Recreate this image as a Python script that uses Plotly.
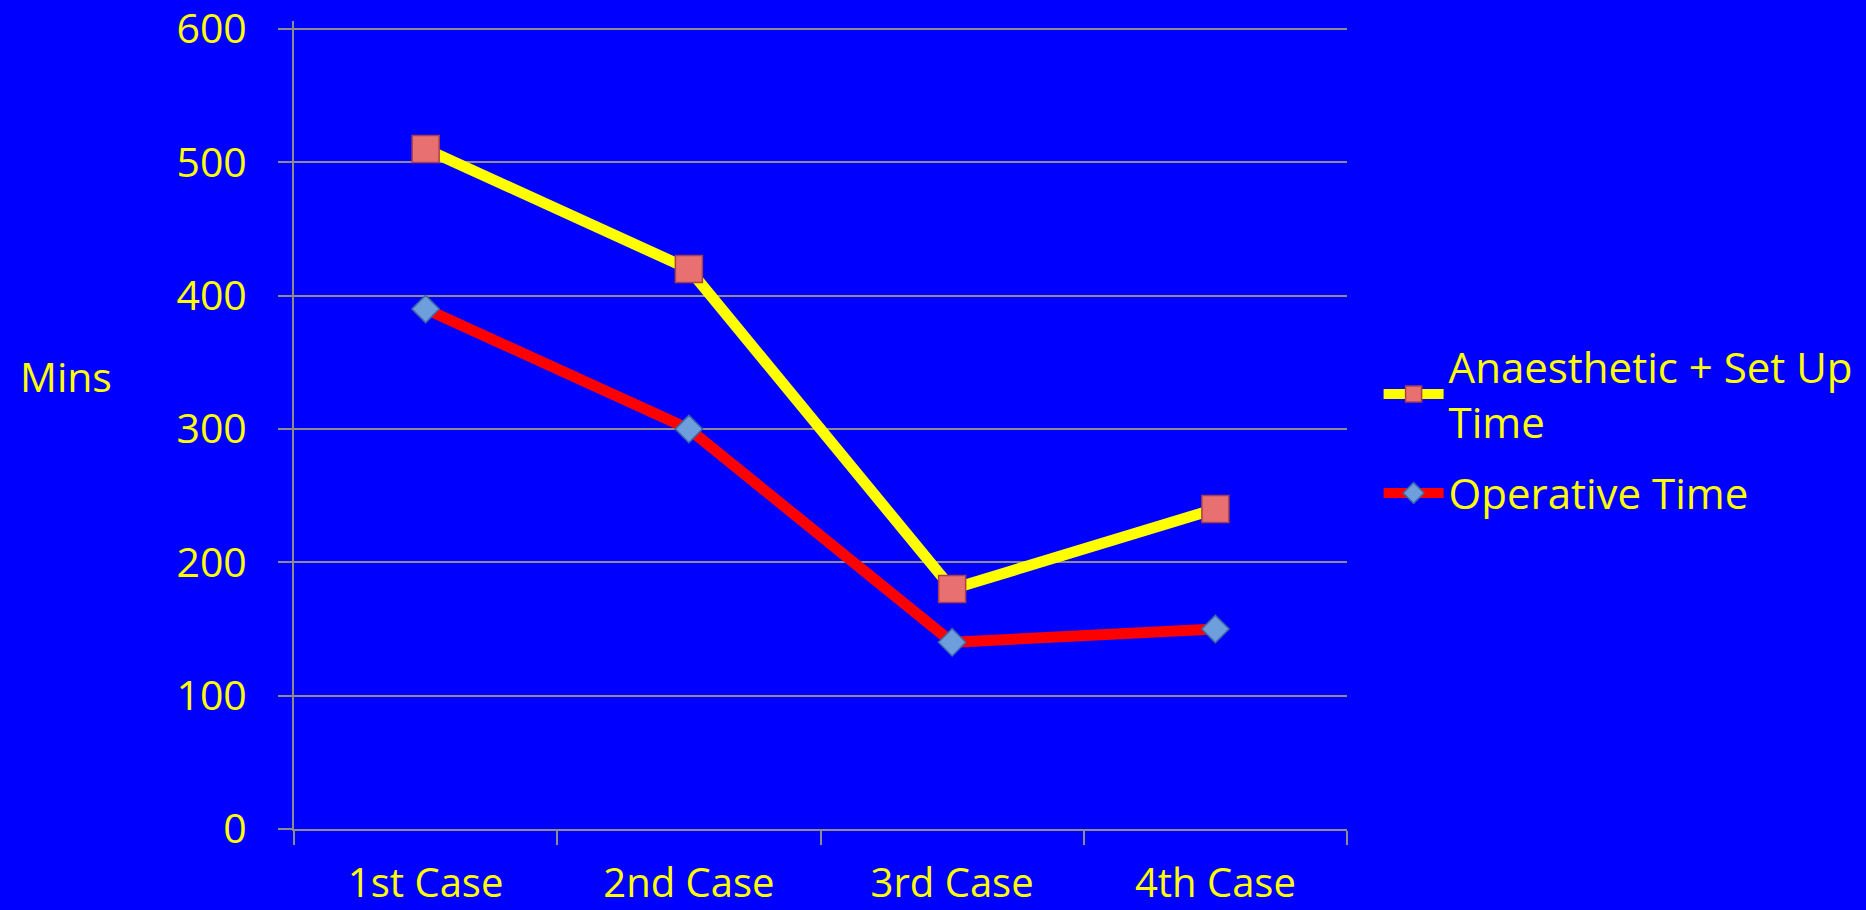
import plotly.graph_objects as go

categories = ["1st Case", "2nd Case", "3rd Case", "4th Case"]
anaesthetic_setup = [510, 420, 180, 240]
operative = [390, 300, 140, 150]
y_ticks = [0, 100, 200, 300, 400, 500, 600]

FONT = "Open Sans"
YEL = "#FFFF00"
W, H = 1866, 910
# plot area: y=0 at 829px, y=600 at 29px; axis extended slightly above 600
Y_MAX = 606
Y_TOP_PX, Y_ZERO_PX = 29, 829
PX_PER_UNIT = (Y_ZERO_PX - Y_TOP_PX) / 600
L, R, B = 294, 519, H - Y_ZERO_PX
T = Y_TOP_PX - (Y_MAX - 600) * PX_PER_UNIT
PH = H - T - B

fig = go.Figure()
fig.add_trace(go.Scatter(
    x=categories, y=anaesthetic_setup, mode="lines+markers",
    name="Anaesthetic + Set Up<br>Time", legendgroup="a",
    line=dict(color="#FFFF00", width=11),
    marker=dict(symbol="square", size=27, color="#E87070",
                line=dict(color="#A8404A", width=1.5)),
))
fig.add_trace(go.Scatter(
    x=categories, y=operative, mode="lines+markers",
    name="Operative Time", legendgroup="b",
    line=dict(color="#FF0000", width=11),
    marker=dict(symbol="diamond", size=21, color="#6E9FDC",
                line=dict(color="#3D6AA8", width=1.5)),
))

fig.update_layout(
    width=W, height=H,
    margin=dict(l=L, r=R, t=T, b=B, autoexpand=False),
    paper_bgcolor="#0000FF", plot_bgcolor="#0000FF",
    font=dict(family=FONT, color=YEL, size=42),
    showlegend=True,
    legend=dict(x=1.03, y=(Y_ZERO_PX - 333) / PH, xanchor="left", yanchor="top",
                bgcolor="rgba(0,0,0,0)", font=dict(size=42, color=YEL),
                itemwidth=60, tracegroupgap=14),
    xaxis=dict(type="category", range=[-0.5, 3.5], showgrid=False,
               automargin=False,
               showline=True, linecolor="#8C8C8C", linewidth=2,
               ticks="outside", tickson="boundaries", ticklen=14,
               tickcolor="#8C8C8C", tickwidth=2,
               tickfont=dict(size=40, color=YEL), ticklabelstandoff=18),
    yaxis=dict(range=[0, Y_MAX], tickvals=y_ticks, showgrid=True,
               automargin=False, ticklabeloverflow="allow",
               gridcolor="#8C8C8C", gridwidth=2, zeroline=False,
               showline=True, linecolor="#8C8C8C", linewidth=2,
               ticks="outside", ticklen=14, tickcolor="#8C8C8C", tickwidth=2,
               tickfont=dict(size=41, color=YEL), ticklabelstandoff=23),
    annotations=[dict(text="Mins", xref="paper", yref="paper",
                      x=(66 - L) / (W - L - R), y=(Y_ZERO_PX - 376) / PH,
                      xanchor="center", yanchor="middle", showarrow=False,
                      font=dict(size=41, color=YEL))],
)

fig.write_html(
    "out.html",
    config={"displayModeBar": False},
    post_script="document.body.style.margin='0';document.body.style.background='#0000FF';document.body.style.overflow='hidden';",
)
